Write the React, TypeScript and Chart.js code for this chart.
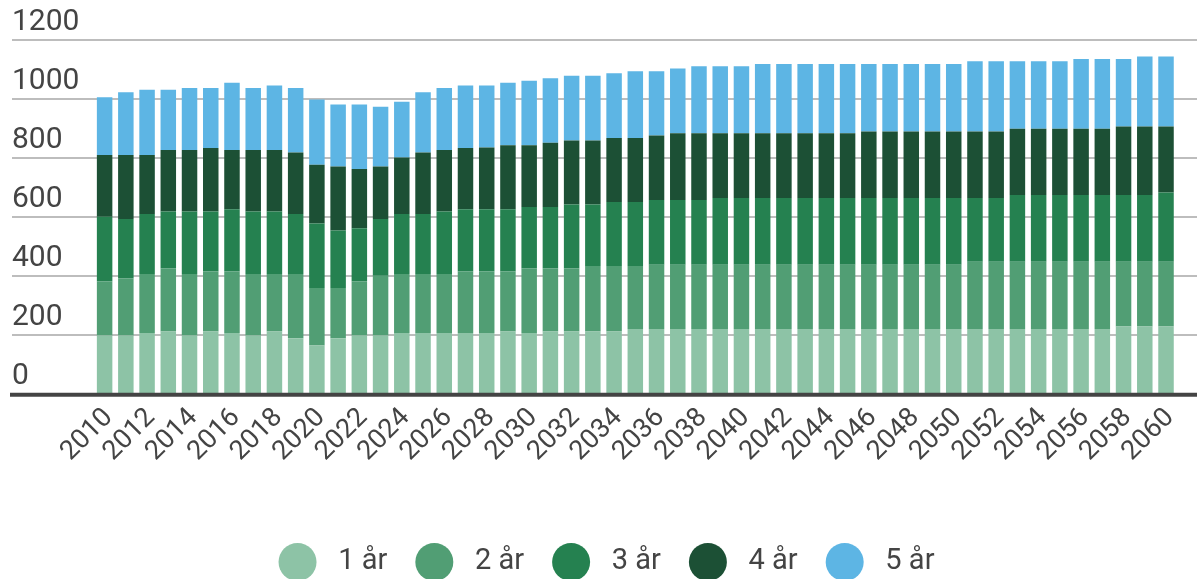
import React, { useEffect, useRef } from "react";
import { Chart, registerables } from "chart.js";

Chart.register(...registerables);

const years: string[] = [
  "2010","2011","2012","2013","2014","2015","2016","2017","2018","2019",
  "2020","2021","2022","2023","2024","2025","2026","2027","2028","2029",
  "2030","2031","2032","2033","2034","2035","2036","2037","2038","2039",
  "2040","2041","2042","2043","2044","2045","2046","2047","2048","2049",
  "2050","2051","2052","2053","2054","2055","2056","2057","2058","2059","2060",
];

const seriesNames: string[] = ["1 år", "2 år", "3 år", "4 år", "5 år"];
const seriesColors: string[] = ["#8dc3a6", "#519e74", "#258150", "#1c5035", "#5db5e4"];

const yTickLabels: string[] = ["0", "200", "400", "600", "800", "1000", "1200"];

const year1: number[] = [
  198,198,207,212,198,212,207,198,212,189,
  164,189,198,198,207,207,207,207,207,212,
  207,212,212,212,212,220,220,220,220,220,
  220,220,220,220,220,220,220,220,220,220,
  220,220,220,220,220,220,220,220,229,229,229,
];
const year2: number[] = [
  184,194,200,214,209,204,209,209,195,218,
  195,170,184,203,200,200,200,209,209,204,
  219,214,214,222,222,214,218,218,218,218,
  218,218,218,218,218,218,218,218,218,218,
  218,228,228,228,228,228,228,228,219,219,219,
];
const year3: number[] = [
  219,201,203,193,212,203,210,212,212,203,
  219,195,180,192,203,203,212,210,210,210,
  208,208,216,208,217,217,220,220,220,226,
  226,226,226,226,226,226,226,226,226,226,
  226,216,216,227,227,227,227,227,227,227,235,
];
const year4: number[] = [
  209,217,200,208,208,215,201,208,208,209,
  199,217,201,178,192,209,208,208,210,217,
  209,218,217,217,217,217,218,226,226,220,
  220,220,220,220,220,220,226,226,226,226,
  226,226,226,224,224,224,224,224,232,232,224,
];
const year5: number[] = [
  196,213,221,204,210,203,228,210,219,218,
  221,210,218,203,189,204,210,212,210,212,
  219,218,220,220,219,226,218,219,227,227,
  227,235,235,235,235,235,229,229,229,229,
  229,238,238,229,229,229,237,237,229,237,237,
];

const seriesValues: number[][] = [year1, year2, year3, year4, year5];

const FONT = "Roboto";
const TEXT_COLOR = "#444444";
const CANVAS_H = 591;
const LEGEND_PAD = 28;

const gridPlugin = {
  id: "customGrid",
  afterLayout(chart: any) {
    const lg = chart.legend;
    if (lg) {
      lg.left += 6;
      lg.right += 6;
    }
  },
  beforeDatasetsDraw(chart: any) {
    const { ctx } = chart;
    const y = chart.scales.y;
    ctx.save();
    ctx.strokeStyle = "#bdbdbd";
    ctx.lineWidth = 2;
    y.ticks.forEach((t: any) => {
      if (t.value === 0) return;
      const py = Math.round(y.getPixelForValue(t.value));
      ctx.beginPath();
      ctx.moveTo(12, py);
      ctx.lineTo(chart.width, py);
      ctx.stroke();
    });
    ctx.restore();
  },
  afterDatasetsDraw(chart: any) {
    const { ctx } = chart;
    const y = chart.scales.y;
    const py = y.getPixelForValue(0) + 0.7;
    ctx.save();
    ctx.strokeStyle = "#444444";
    ctx.lineWidth = 4;
    ctx.beginPath();
    ctx.moveTo(10, py);
    ctx.lineTo(chart.width, py);
    ctx.stroke();
    ctx.restore();
  },
};

export default function App() {
  const canvasRef = useRef<HTMLCanvasElement | null>(null);

  useEffect(() => {
    document.body.style.margin = "0";
    document.body.style.overflow = "hidden";
    const canvas = canvasRef.current;
    if (!canvas) return;
    const chart = new Chart(canvas, {
      type: "bar",
      data: {
        labels: years,
        datasets: seriesNames.map((name, i) => ({
          label: name,
          data: seriesValues[i],
          backgroundColor: seriesColors[i],
          borderWidth: 0,
          categoryPercentage: 1,
          barPercentage: 0.73,
        })),
      },
      plugins: [gridPlugin],
      options: {
        animation: false,
        responsive: true,
        maintainAspectRatio: false,
        layout: { padding: { left: 12, right: 8, top: 40, bottom: 0 } },
        plugins: {
          tooltip: { enabled: false },
          legend: {
            position: "bottom",
            labels: {
              font: { family: FONT, size: 29 },
              color: TEXT_COLOR,
              boxWidth: 38,
              boxHeight: 38,
              useBorderRadius: true,
              borderRadius: 19,
              padding: LEGEND_PAD,
              generateLabels: (chart: any) =>
                chart.data.datasets.map((ds: any, i: number) => ({
                  text: " " + ds.label,
                  fillStyle: ds.backgroundColor,
                  strokeStyle: ds.backgroundColor,
                  lineWidth: 0,
                  hidden: false,
                  datasetIndex: i,
                  borderRadius: 19,
                  fontColor: TEXT_COLOR,
                })),
            },
          },
        },
        scales: {
          x: {
            stacked: true,
            grid: { display: false, drawTicks: false },
            border: { display: false },
            ticks: {
              autoSkip: false,
              maxRotation: 45,
              minRotation: 45,
              padding: 8,
              labelOffset: 4,
              color: TEXT_COLOR,
              font: { family: FONT, size: 27 },
              callback: (_v: any, i: number) => (i % 2 === 0 ? years[i] : ""),
            },
            afterFit: (s: any) => {
              s.height = CANVAS_H - (38 + LEGEND_PAD + 10) - 394;
            },
          },
          y: {
            stacked: true,
            min: 0,
            max: 1200,
            grid: { display: false, drawTicks: false },
            border: { display: false },
            ticks: {
              stepSize: 200,
              crossAlign: "far",
              labelOffset: -18,
              padding: 0,
              color: TEXT_COLOR,
              font: { family: FONT, size: 30 },
              callback: (_v: any, i: number) => yTickLabels[i],
            },
            afterFit: (s: any) => {
              s.width = 82;
            },
          },
        },
      },
    });
    return () => chart.destroy();
  }, []);

  return (
    <div style={{ position: "relative", width: "1197px", height: CANVAS_H + "px" }}>
      <canvas ref={canvasRef} />
    </div>
  );
}
